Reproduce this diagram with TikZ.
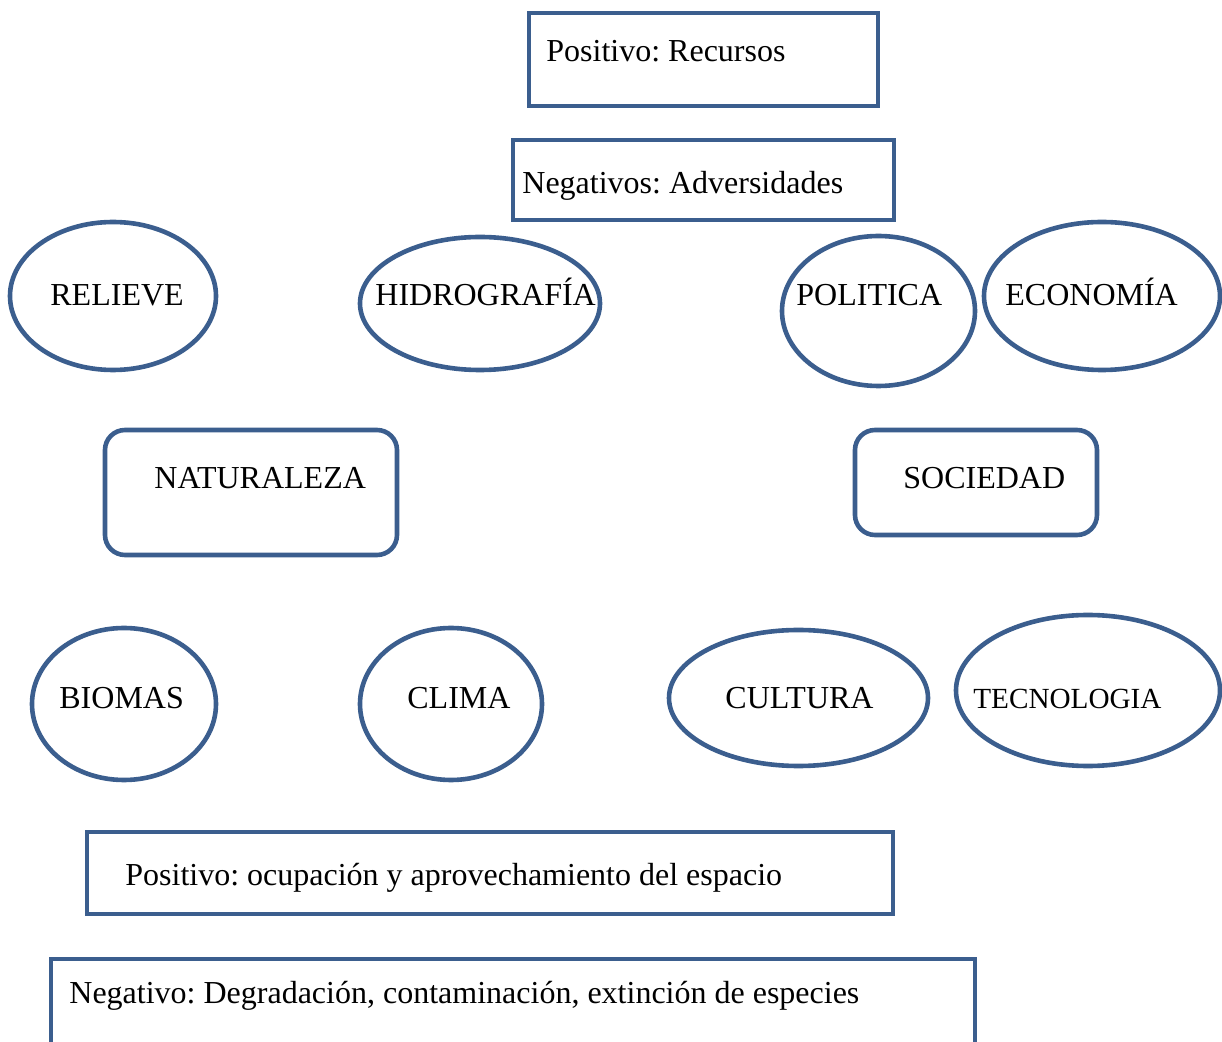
\documentclass[tikz,border=0pt]{standalone}
\usepackage{fontspec}
\setmainfont{Liberation Serif}
\usepackage{xcolor}
\usetikzlibrary{shapes,positioning}
\definecolor{outline}{HTML}{3B5E8E}
\frenchspacing
\tikzset{
  box/.style={draw=outline, line width=2.3pt, rectangle, inner sep=0pt},
  roundbox/.style={box, rounded corners=10pt},
  oval/.style={draw=outline, line width=2.3pt, ellipse, inner sep=0pt},
  txt/.style={inner sep=0pt, anchor=base west, font=\fontsize{16}{19}\selectfont},
}
\begin{document}
\begin{tikzpicture}[x=0.5pt,y=-0.5pt]
            \useasboundingbox (0,0) rectangle (1222,1042);
            \clip (0,0) rectangle (1222,1042);

            % recuadros de arriba
            \node[box, minimum width=174.5pt, minimum height=46.5pt] (recursos) at (703.5,59.5) {};
            \node[box, minimum width=190.5pt, minimum height=40pt] (adversidades) at (703.5,180) {};
            \node[txt] (recursostxt) at (546,62) {Positivo: Recursos};
            \node[txt] (adversidadestxt) at (522,194) {Negativos: Adversidades};

            % fila de elipses superior
            \node[oval, minimum width=103pt, minimum height=74pt] (relieve) at (113,296) {};
            \node[oval, minimum width=120pt, minimum height=66.5pt] (hidrografia) at (480,303.5) {};
            \node[oval, minimum width=96.5pt, minimum height=75pt] (politica) at (878.5,311) {};
            \node[oval, minimum width=118pt, minimum height=74pt] (economia) at (1102,296) {};
            \node[txt] (relievetxt) at (50,306) {RELIEVE};
            \node[txt] (hidrografiatxt) at (375,306) {HIDROGRAFÍA};
            \node[txt] (politicatxt) at (796,306) {POLITICA};
            \node[txt] (economiatxt) at (1005,306) {ECONOMÍA};

            % naturaleza y sociedad
            \node[roundbox, minimum width=146pt, minimum height=62.5pt] (naturaleza) at (251,492.5) {};
            \node[roundbox, minimum width=121pt, minimum height=52.5pt] (sociedad) at (976,482.5) {};
            \node[txt] (naturalezatxt) at (154,489) {NATURALEZA};
            \node[txt] (sociedadtxt) at (903,489) {SOCIEDAD};

            % fila de elipses inferior
            \node[oval, minimum width=92pt, minimum height=76pt] (biomas) at (124,704) {};
            \node[oval, minimum width=91pt, minimum height=76pt] (clima) at (451,704) {};
            \node[oval, minimum width=129.5pt, minimum height=68pt] (cultura) at (798.5,698) {};
            \node[oval, minimum width=132pt, minimum height=75.5pt] (tecnologia) at (1088,690.5) {};
            \node[txt] (biomastxt) at (59,709) {BIOMAS};
            \node[txt] (climatxt) at (407,709) {CLIMA};
            \node[txt] (culturatxt) at (725,709) {CULTURA};
            \node[txt, font=\fontsize{14.6}{17}\selectfont] (tecnologiatxt) at (973,709) {TECNOLOGIA};

            % recuadros de abajo
            \node[box, minimum width=403pt, minimum height=41pt] (ocupacion) at (490,873) {};
            \node[box, minimum width=462pt, minimum height=70.5pt] (degradacion) at (513,1029.5) {};
            \node[txt] (ocupaciontxt) at (125,885) {Positivo: ocupación y aprovechamiento del espacio};
            \node[txt] (degradaciontxt) at (69,1003) {Negativo: Degradación, contaminación, extinción de especies};
        \end{tikzpicture}
\end{document}
